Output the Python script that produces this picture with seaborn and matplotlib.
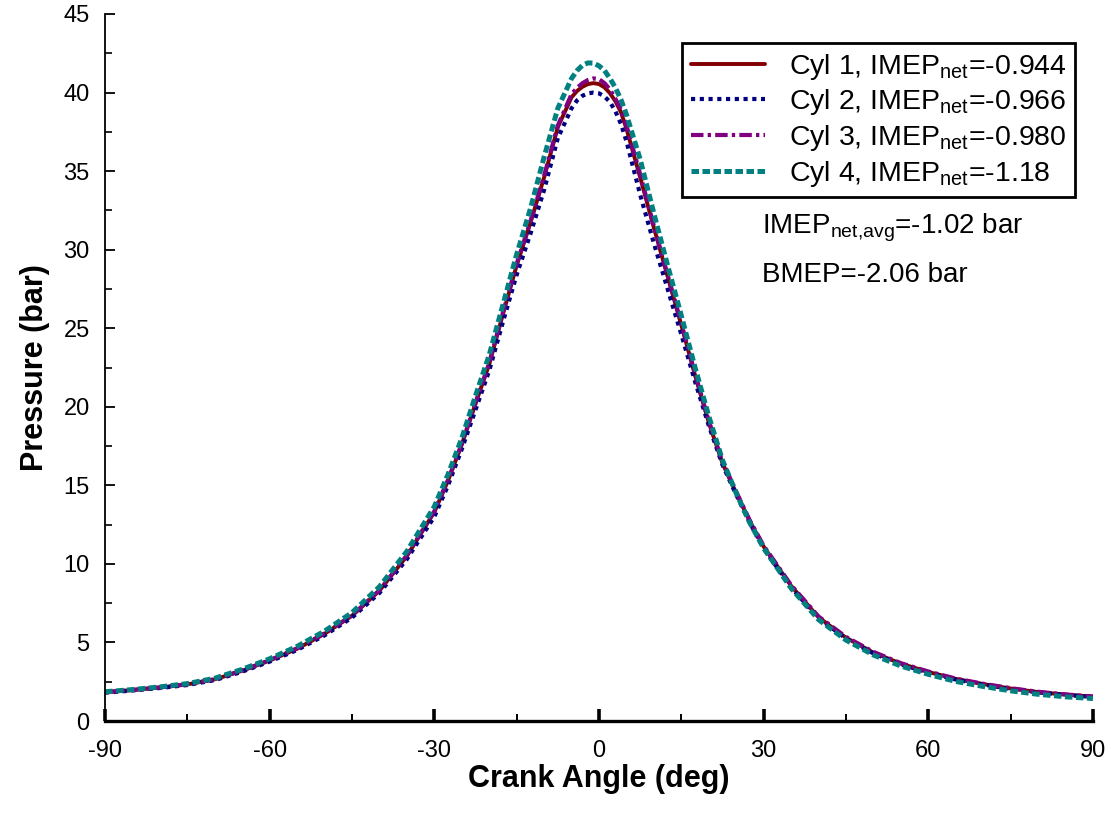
import matplotlib
matplotlib.use("Agg")
import matplotlib.pyplot as plt
from matplotlib.ticker import MultipleLocator
import pandas as pd
import seaborn as sns

# Crank angle grid (deg) shared by all cylinder traces
crank_angle = [-90, -85, -80, -75, -70, -65, -60, -55, -50, -45, -40, -35,
               -30, -27.5, -25, -22.5, -20, -17.5, -15, -12.5, -10, -7.5,
               -5, -4, -3, -2, -1, 0, 1, 2, 3, 4, 5,
               7.5, 10, 12.5, 15, 17.5, 20, 22.5, 25, 27.5, 30,
               35, 40, 45, 50, 55, 60, 65, 70, 75, 80, 85, 90]

# In-cylinder pressure (bar)
cyl1_pressure = [1.83, 1.97, 2.13, 2.33, 2.65, 3.20, 3.85, 4.60, 5.55, 6.70, 8.30, 10.5,
                 13.3, 15.3, 17.6, 20.2, 22.7, 25.9, 29.0, 31.7, 34.6, 37.8,
                 39.7, 40.1, 40.37, 40.54, 40.6, 40.54, 40.33, 39.96, 39.44, 38.75, 37.7,
                 34.6, 31.4, 28.3, 25.2, 22.0, 19.0, 16.4, 14.5, 12.7, 11.1,
                 8.6, 6.6, 5.3, 4.35, 3.65, 3.12, 2.68, 2.35, 2.07, 1.84, 1.68, 1.55]
cyl2_pressure = [1.80, 1.94, 2.10, 2.29, 2.60, 3.14, 3.78, 4.52, 5.45, 6.58, 8.15, 10.3,
                 13.0, 15.0, 17.3, 19.8, 22.3, 25.4, 28.4, 31.0, 33.8, 37.1,
                 39.0, 39.5, 39.8, 39.95, 40.0, 39.95, 39.75, 39.4, 38.8, 38.0, 36.9,
                 33.5, 30.4, 27.5, 24.6, 21.6, 18.8, 16.3, 14.4, 12.6, 11.0,
                 8.5, 6.55, 5.25, 4.3, 3.6, 3.08, 2.64, 2.32, 2.04, 1.82, 1.66, 1.53]
cyl3_pressure = [1.84, 1.98, 2.14, 2.34, 2.66, 3.22, 3.87, 4.63, 5.58, 6.72, 8.32, 10.55,
                 13.35, 15.35, 17.65, 20.25, 22.8, 26.0, 29.1, 31.8, 34.7, 37.9,
                 39.9, 40.3, 40.6, 40.8, 40.9, 40.85, 40.6, 40.2, 39.6, 38.9, 37.9,
                 34.8, 31.5, 28.4, 25.3, 22.1, 19.1, 16.5, 14.6, 12.75, 11.15,
                 8.65, 6.65, 5.35, 4.4, 3.68, 3.15, 2.7, 2.37, 2.09, 1.86, 1.69, 1.56]
cyl4_pressure = [1.86, 2.00, 2.17, 2.38, 2.72, 3.29, 3.96, 4.75, 5.72, 6.90, 8.55, 10.8,
                 13.65, 15.7, 18.0, 20.7, 23.3, 26.5, 29.7, 32.6, 35.9, 39.0,
                 40.9, 41.4, 41.74, 41.89, 41.87, 41.7, 41.4, 40.9, 40.3, 39.55, 38.6,
                 35.75, 32.3, 29.0, 25.8, 22.5, 19.4, 16.6, 14.5, 12.6, 11.0,
                 8.45, 6.45, 5.15, 4.2, 3.5, 2.97, 2.52, 2.2, 1.92, 1.7, 1.54, 1.43]

cylinder_names = ["Cyl 1", "Cyl 2", "Cyl 3", "Cyl 4"]
imep_net = ["-0.944", "-0.966", "-0.980", "-1.18"]
imep_net_avg = "-1.02"
bmep = "-2.06"

sns.set_style("ticks")
plt.rcParams["font.family"] = ["Liberation Sans", "DejaVu Sans"]
plt.rcParams["mathtext.fontset"] = "custom"
plt.rcParams["mathtext.rm"] = "Liberation Sans"
plt.rcParams["mathtext.it"] = "Liberation Sans"
plt.rcParams["mathtext.default"] = "regular"
plt.rcParams["axes.unicode_minus"] = False
plt.rcParams["text.color"] = "black"
plt.rcParams["axes.labelcolor"] = "black"
plt.rcParams["xtick.color"] = "black"
plt.rcParams["ytick.color"] = "black"

traces = [cyl1_pressure, cyl2_pressure, cyl3_pressure, cyl4_pressure]
frames = []
for name, p in zip(cylinder_names, traces):
    frames.append(pd.DataFrame({"angle": crank_angle, "pressure": p, "cyl": name}))
df = pd.concat(frames, ignore_index=True)

colors = ["#800000", "#000080", "#800080", "#008080"]
styles = ["-", (0, (1.0, 1.1)), (0, (3.0, 1.0, 0.8, 1.0)), (0, (1.5, 0.7))]
widths = [2.8, 3.0, 3.0, 3.6]

fig = plt.figure(figsize=(11.11, 8.19), dpi=100)
ax = fig.add_axes([105 / 1111, 98 / 819, 988 / 1111, 707 / 819])

for name, imep, c, ls, lw in zip(cylinder_names, imep_net, colors, styles, widths):
    sub = df[df["cyl"] == name]
    sns.lineplot(data=sub, x="angle", y="pressure", ax=ax, color=c,
                 linestyle=ls, linewidth=lw, estimator=None, sort=False,
                 label=f"{name}, IMEP$_{{net}}$={imep}")

ax.set_xlim(-90, 90)
ax.set_ylim(0, 45)
ax.xaxis.set_major_locator(MultipleLocator(30))
ax.xaxis.set_minor_locator(MultipleLocator(15))
ax.yaxis.set_major_locator(MultipleLocator(5))
ax.yaxis.set_minor_locator(MultipleLocator(2.5))

for side in ["top", "right"]:
    ax.spines[side].set_visible(False)
ax.spines["left"].set_linewidth(1.3)
ax.spines["bottom"].set_linewidth(2.4)
ax.spines["left"].set_color("black")
ax.spines["bottom"].set_color("black")

ax.tick_params(axis="x", which="major", direction="in", length=9, width=2.6,
               labelsize=17, pad=14)
ax.tick_params(axis="x", which="minor", direction="in", length=5, width=1.4)
ax.tick_params(axis="y", which="major", direction="in", length=7, width=1.3,
               labelsize=17, pad=11)
ax.tick_params(axis="y", which="minor", direction="in", length=5, width=1.2)

ax.set_xlabel("Crank Angle (deg)", fontsize=22, fontweight="bold", labelpad=1)
ax.set_ylabel("Pressure (bar)", fontsize=22, fontweight="bold", labelpad=10)

leg = ax.legend(loc="upper right", bbox_to_anchor=(0.982, 0.959), borderaxespad=0,
                fontsize=20.5, frameon=True, fancybox=False, framealpha=1,
                edgecolor="black", handlelength=2.6, handletextpad=0.85,
                labelspacing=0.2, borderpad=0.3)
leg.get_frame().set_linewidth(2.0)

ax.text(0.665, 0.698, f"IMEP$_{{net{{,}}avg}}$={imep_net_avg} bar", transform=ax.transAxes,
        fontsize=20, va="center", ha="left")
ax.text(0.665, 0.631, f"BMEP={bmep} bar", transform=ax.transAxes,
        fontsize=20, va="center", ha="left")

fig.savefig("out.png", dpi=100, facecolor="white")
